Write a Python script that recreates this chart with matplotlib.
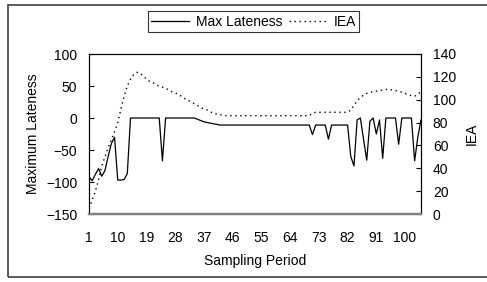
import matplotlib
matplotlib.use("Agg")
import matplotlib.pyplot as plt
from matplotlib.patches import Rectangle

plt.rcParams['font.family'] = ['Liberation Sans', 'DejaVu Sans']

periods = list(range(1, 106))
tick_labels = [1, 10, 19, 28, 37, 46, 55, 64, 73, 82, 91, 100]

max_lateness = [
    -92, -98, -88, -79, -91, -82, -60, -40, -30, -97,
    -97, -96, -87, 0, 0, 0, 0, 0, 0, 0,
    0, 0, 0, -67, 0, 0, 0, 0, 0, 0,
    0, 0, 0, 0, -2, -4, -6, -7, -8, -9,
    -10, -11, -11, -11, -11, -11, -11, -11, -11, -11,
    -11, -11, -11, -11, -11, -11, -11, -11, -11, -11,
    -11, -11, -11, -11, -11, -11, -11, -11, -11, -11,
    -26, -11, -11, -11, -11, -33, -11, -11, -11, -11,
    -11, -11, -60, -75, -3, 0, -33, -66, -5, 0,
    -25, -3, -63, 0, 0, 0, 0, -41, 0, 0,
    0, 0, -67, -30, -3,
]

iea = [
    5, 12, 20, 30, 42, 50, 58, 65, 72, 80,
    92, 103, 112, 118, 122, 124, 123, 121, 118, 116,
    115, 113, 112, 111, 110, 108.5, 107, 106, 104.5, 103,
    101, 99.5, 98, 96.5, 95, 93, 92, 91, 89.5, 88,
    87.5, 87, 86.5, 86, 86, 86, 86, 86, 86, 86,
    86, 86, 86, 86, 86, 86, 86, 86, 86, 86,
    86, 86, 86, 86, 86, 86, 86, 86, 86, 86,
    88, 89, 89, 89, 89, 89, 89, 89, 89, 89,
    89, 89, 91, 95, 99, 102, 104, 105.5, 106.5, 107,
    107.5, 108, 108.5, 109, 109, 108.5, 108, 107.5, 106.5, 105.5,
    104.5, 103.5, 103, 105, 107,
]

W, H = 487, 282
fig = plt.figure(figsize=(W / 100, H / 100), dpi=100)
fig.patch.set_facecolor('white')

ax = fig.add_axes([89 / W, 1 - 214 / H, (421 - 89) / W, (214 - 54) / H])
ax2 = ax.twinx()

l1, = ax.plot(periods, max_lateness, color='black', lw=0.9, label='Max Lateness')
l2, = ax2.plot(periods, iea, color='black', lw=1.0, linestyle=(0, (1, 2.6)), label='IEA')

ax.set_xlim(1, 105)
ax.set_ylim(-150, 100)
ax.set_yticks([-150, -100, -50, 0, 50, 100])
ax2.set_ylim(0, 140)
ax2.set_yticks([0, 20, 40, 60, 80, 100, 120, 140])
ax.set_xticks(tick_labels)
ax.set_xticklabels([str(t) for t in tick_labels])

fs = 10
ax.tick_params(axis='y', direction='in', length=3.5, width=0.8, pad=8.5, labelsize=fs)
ax.tick_params(axis='x', length=0, pad=12.5, labelsize=fs)
ax2.tick_params(axis='y', direction='in', length=3.5, width=0.8, pad=8.5, labelsize=fs)

for a in (ax, ax2):
    for s in ('left', 'right', 'top'):
        a.spines[s].set_color('black')
        a.spines[s].set_linewidth(0.8)
    a.spines['bottom'].set_color('#808080')
    a.spines['bottom'].set_linewidth(1.6)

ax.set_xlabel('Sampling Period', fontsize=fs, labelpad=6)
ax.set_ylabel('Maximum Lateness', fontsize=fs, labelpad=4)
ax2.set_ylabel('IEA', fontsize=fs, labelpad=6)

leg = fig.legend(handles=[l1, l2], loc='center', bbox_to_anchor=(253.5 / W, 1 - 21.7 / H),
                 ncol=2, fontsize=fs, frameon=True, fancybox=False, shadow=False,
                 handlelength=2.7, handletextpad=0.5, columnspacing=0.5,
                 borderpad=0.25, borderaxespad=0)
leg.get_frame().set_edgecolor('black')
leg.get_frame().set_linewidth(0.8)

# outer chart border
fig.add_artist(Rectangle((8 / W, 1 - 277 / H), 1.0, (277 - 5) / H,
                         transform=fig.transFigure, fill=False,
                         edgecolor='#404040', linewidth=1.2, clip_on=False))

fig.savefig('out.png', dpi=100, facecolor='white')
